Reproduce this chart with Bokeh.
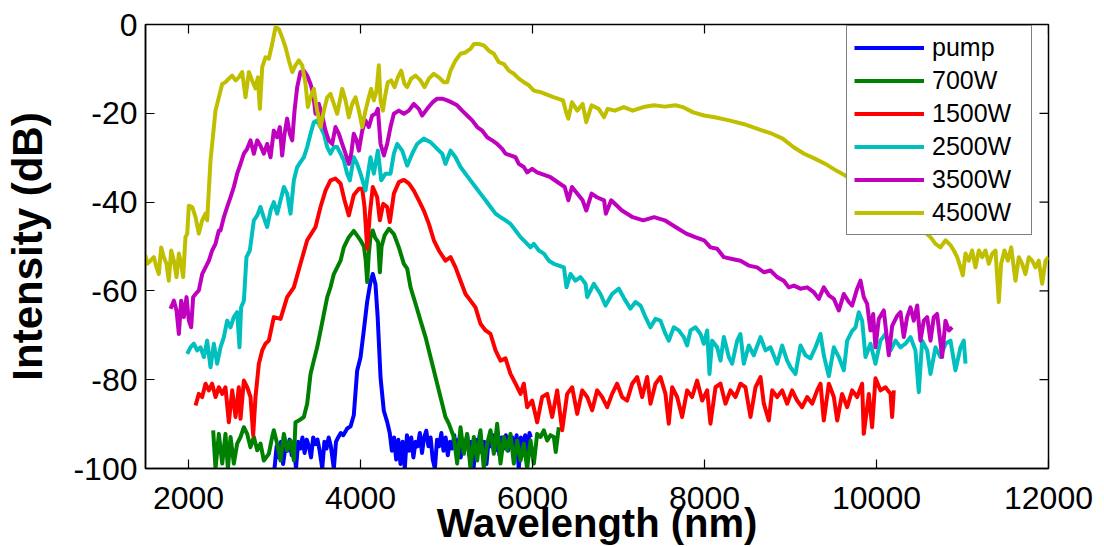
from bokeh.plotting import figure
from bokeh.models import Range1d, Legend, LegendItem, FixedTicker
from bokeh.embed import file_html
from bokeh.resources import INLINE

# ---------------- data ----------------
x_ticks = [2000, 4000, 6000, 8000, 10000, 12000]
y_ticks = [-100, -80, -60, -40, -20, 0]
series_labels = ["pump", "700W", "1500W", "2500W", "3500W", "4500W"]
series_colors = ["#0000FF", "#008000", "#FF0000", "#00BFBF", "#BF00BF", "#BFBF00"]
x_title = "Wavelength (nm)"
y_title = "Intensity (dB)"

pump_wl = [3000, 3025, 3050, 3075, 3100, 3125, 3150, 3175, 3200, 3225, 3250, 3275, 3300, 3325, 3350,
           3375, 3400, 3425, 3450, 3475, 3500, 3525, 3555, 3580, 3605, 3630, 3655, 3690, 3715, 3740,
           3770, 3800, 3845, 3885, 3922, 3961, 4000, 4038, 4077, 4116, 4143, 4174, 4200, 4233, 4271,
           4310, 4340, 4365, 4390, 4415, 4440, 4465, 4490, 4515, 4540, 4565, 4590, 4615, 4640, 4665,
           4690, 4715, 4740, 4765, 4790, 4815, 4840, 4865, 4890, 4915, 4940, 4965, 4990, 5015, 5040,
           5065, 5090, 5115, 5140, 5165, 5190, 5215, 5240, 5265, 5290, 5315, 5340, 5365, 5390, 5415,
           5440, 5465, 5490, 5515, 5540, 5565, 5590, 5615, 5640, 5665, 5690, 5715, 5740, 5765, 5790,
           5815, 5840, 5865, 5890, 5915, 5940, 5965, 5980]
pump_db = [-100, -95, -97.5, -94, -99, -95.5, -96, -93.5, -97, -94.5, -100, -94, -95.5, -93, -96.5,
           -93.5, -95, -97.5, -93, -94.5, -93.5, -96, -100, -94, -95.5, -93, -95, -100, -94, -93,
           -92, -92.5, -91, -90.5, -88, -78, -75, -69, -62.5, -58, -56.2, -58.5, -66, -79.5, -87,
           -89.5, -92, -96, -93, -98, -93.5, -99, -94, -100, -92.5, -96, -93, -97.5, -94, -95,
           -92, -96.5, -93, -91.5, -95, -93, -98, -100, -93.5, -95, -92, -96, -93, -97, -94,
           -95.5, -92.5, -96, -93.5, -97.5, -94, -95, -92.5, -97, -94, -100, -93.5, -95, -92, -96.5,
           -94, -99, -93.5, -95, -92.5, -96, -91.5, -97, -93, -95.5, -92.5, -96, -94, -93, -97.5,
           -92.5, -100, -93, -95, -92.5, -96, -92, -93]

w700_wl = [2287, 2314, 2353, 2392, 2430, 2458, 2489, 2527, 2566, 2605, 2644, 2682, 2721, 2760, 2799,
           2837, 2876, 2934, 2973, 2992, 3031, 3070, 3109, 3147, 3186, 3225, 3244, 3283, 3341, 3380,
           3419, 3457, 3496, 3535, 3574, 3613, 3651, 3690, 3729, 3768, 3806, 3864, 3922, 3960, 4000,
           4040, 4060, 4078, 4095, 4115, 4143, 4170, 4205, 4225, 4245, 4280, 4330, 4388, 4446, 4504,
           4543, 4582, 4640, 4698, 4756, 4814, 4872, 4930, 4988, 5027, 5085, 5124, 5163, 5202, 5240,
           5279, 5318, 5357, 5395, 5434, 5473, 5512, 5551, 5589, 5628, 5667, 5706, 5744, 5783, 5822,
           5861, 5899, 5938, 5977, 6016, 6054, 6093, 6132, 6171, 6209, 6248, 6270, 6306]
w700_db = [-91.4, -100, -92.2, -98.9, -92.2, -100, -92.9, -98.9, -94.4, -92.9, -90.7, -92.2, -95.2, -92.9, -95.9,
           -94.4, -98.2, -96.7, -92.9, -91.4, -94.4, -98.2, -92.2, -95.9, -93.7, -98.2, -89.6, -89.2, -88.4, -85.4,
           -78.7, -75.7, -72.7, -69, -65.2, -61.4, -59.2, -56.2, -54.7, -53.2, -50.2, -47.9, -46.5, -47.5, -48.6,
           -50, -53, -58, -52, -48, -46.4, -48, -49, -55.8, -50, -47.5, -46, -47.2, -50.2, -53.9,
           -55, -59.2, -62.9, -66.7, -70.4, -74.9, -79.4, -83.9, -88.4, -89.9, -92.9, -98.9, -90.7, -96.7, -92.2,
           -100, -92.9, -98.2, -91.4, -100, -94.4, -91.4, -96.7, -89.9, -98.9, -92.9, -95.9, -92.2, -98.9, -93.7,
           -98.2, -94.4, -100, -93.7, -98.9, -92.2, -92.9, -91.4, -93.7, -92.5, -92.9, -96.3, -90.7]

w1500_wl = [2082, 2120, 2159, 2198, 2237, 2275, 2314, 2353, 2392, 2430, 2469, 2508, 2547, 2585, 2605,
            2644, 2682, 2721, 2752, 2779, 2818, 2857, 2895, 2934, 2992, 3070, 3147, 3225, 3302, 3380,
            3477, 3535, 3593, 3651, 3709, 3768, 3814, 3864, 3922, 3981, 4020, 4047, 4078, 4109, 4143,
            4194, 4225, 4264, 4310, 4341, 4388, 4446, 4504, 4562, 4620, 4678, 4736, 4795, 4853, 4911,
            4988, 5047, 5105, 5163, 5221, 5279, 5337, 5395, 5454, 5512, 5570, 5628, 5686, 5744, 5803,
            5861, 5899, 5938, 5996, 6054, 6112, 6171, 6229, 6287, 6345, 6403, 6461, 6520, 6578, 6636,
            6694, 6752, 6810, 6868, 6926, 6984, 7042, 7100, 7159, 7217, 7275, 7333, 7372, 7430, 7488,
            7546, 7585, 7624, 7682, 7740, 7798, 7856, 7914, 7973, 8031, 8069, 8128, 8186, 8244, 8302,
            8360, 8418, 8476, 8535, 8593, 8651, 8690, 8748, 8787, 8845, 8903, 8961, 9019, 9077, 9135,
            9194, 9252, 9310, 9349, 9387, 9446, 9504, 9543, 9600, 9659, 9717, 9775, 9833, 9852, 9911,
            9949, 9988, 10046, 10104, 10163, 10182, 10201]
w1500_db = [-85.8, -83.2, -83.9, -80.9, -82.4, -80.9, -83.9, -81.7, -83.2, -81.7, -89.6, -82.4, -88.4, -81.7, -88.8,
            -80.2, -81.7, -83.9, -92.5, -83.9, -76.4, -73.4, -71.9, -71.2, -65.9, -66.3, -61.4, -59.2, -53.9, -48.6,
            -45.6, -41.1, -37.4, -35.1, -34.7, -35.8, -39.6, -43, -38.4, -37, -37, -41.1, -50.5, -42.6, -36.6,
            -38.9, -44.1, -40.4, -41.1, -44.5, -38.1, -35.5, -35, -35.8, -37.4, -39.6, -41.9, -44.9, -48.6, -50.9,
            -53.2, -52.4, -54.7, -57.7, -60.7, -62.2, -63.7, -67.4, -68.9, -69.7, -73.4, -75.7, -75.2, -78.7, -80.9,
            -83.2, -80.9, -86.2, -84.7, -89.6, -83.9, -83.2, -88.4, -82.4, -91.4, -83.2, -81.7, -87.7, -82.4, -83.9,
            -86.9, -82.4, -83.9, -86.2, -83.2, -80.9, -83.9, -84.7, -80.9, -79.4, -83.9, -79.4, -85.4, -80.9, -79.4,
            -83.2, -89.9, -81.7, -83.9, -88.4, -82.4, -83.9, -80.2, -84.7, -82.4, -89.9, -81.7, -80.9, -85.4, -82.4,
            -83.9, -80.9, -81.7, -88.4, -81.7, -79.4, -85.4, -89.2, -82.4, -83.9, -82.4, -85.4, -82.4, -84.7, -86.2,
            -83.9, -85.4, -82.4, -80.9, -89.2, -80.9, -83.9, -89.2, -83.2, -86.2, -82.4, -83.9, -80.9, -92.2, -83.2,
            -90.7, -79.7, -82.4, -81.7, -83.2, -88.4, -82.4]

w2500_wl = [1985, 2023, 2062, 2101, 2140, 2179, 2217, 2256, 2295, 2333, 2372, 2411, 2450, 2489, 2527,
            2566, 2593, 2612, 2644, 2674, 2713, 2760, 2799, 2837, 2876, 2915, 2954, 2992, 3031, 3070,
            3109, 3147, 3186, 3225, 3264, 3302, 3341, 3380, 3419, 3457, 3496, 3535, 3574, 3613, 3651,
            3690, 3729, 3768, 3806, 3845, 3876, 3922, 3961, 4000, 4058, 4116, 4155, 4202, 4241, 4291,
            4349, 4388, 4427, 4485, 4543, 4601, 4659, 4736, 4814, 4892, 4950, 4988, 5047, 5105, 5163,
            5221, 5279, 5337, 5395, 5454, 5512, 5570, 5628, 5686, 5744, 5803, 5861, 5919, 5977, 6016,
            6074, 6132, 6190, 6248, 6306, 6365, 6395, 6442, 6500, 6558, 6616, 6636, 6713, 6790, 6849,
            6926, 7004, 7081, 7139, 7197, 7256, 7314, 7372, 7430, 7488, 7546, 7585, 7643, 7701, 7759,
            7798, 7837, 7895, 7953, 7992, 8031, 8058, 8089, 8147, 8186, 8225, 8283, 8321, 8380, 8418,
            8457, 8515, 8573, 8651, 8709, 8767, 8845, 8903, 8961, 9000, 9058, 9116, 9174, 9232, 9291,
            9349, 9387, 9446, 9504, 9562, 9620, 9659, 9717, 9756, 9794, 9833, 9872, 9930, 9988, 10046,
            10104, 10163, 10221, 10279, 10337, 10395, 10453, 10492, 10531, 10589, 10628, 10686, 10744, 10802, 10860,
            10918, 10977, 11015, 11035]
w2500_db = [-74.2, -72.7, -71.9, -73.4, -72.7, -74.9, -71.2, -77.2, -71.9, -76.4, -72.7, -70.4, -66.7, -68.2, -65.9,
            -64.8, -72.7, -63.7, -62.2, -52.4, -50.9, -44.1, -43, -41.1, -43.5, -45.6, -41.9, -40, -42.6, -39.6,
            -36.6, -38.1, -42.6, -35.1, -32.1, -31, -29.9, -27.6, -24.6, -22, -21.6, -23.1, -24.6, -27.6, -29.1,
            -27.6, -27.6, -29.1, -30.6, -33.6, -35.1, -29.9, -31.4, -33.6, -37.4, -29.9, -33.6, -28.4, -35.1, -33.6,
            -33.6, -29.1, -26.9, -28.4, -31.8, -29.1, -26.9, -25.7, -26.5, -28, -29.1, -31.4, -28.4, -29.9, -32.1,
            -33.6, -35.1, -36.6, -38.1, -39.6, -41.1, -42.6, -43.4, -44.1, -44.9, -46.4, -47.9, -49, -50.2, -49.4,
            -50.9, -51.6, -53.2, -53.9, -54.3, -54.7, -59.2, -56.2, -57.7, -56.9, -58.4, -61.4, -58.4, -60.7, -63.3,
            -60.7, -59.5, -62.2, -64, -62.5, -63.3, -65.9, -68.2, -66.3, -66.7, -69.7, -71.2, -68.2, -68.9, -70.4,
            -72.3, -68.9, -68.2, -69.7, -71.9, -68.9, -78.7, -71.2, -72.7, -75.7, -70.4, -74.9, -76.4, -71.2, -69.7,
            -76.4, -72.3, -74.5, -70.4, -73.4, -72.7, -76.4, -72.3, -75.7, -77.2, -78.7, -72.3, -74.5, -75.2, -72.7,
            -69.7, -74.5, -79.2, -72.7, -74.9, -77.9, -71.2, -69, -68.2, -64.8, -66.7, -74.9, -71.9, -76.4, -71.2,
            -69.7, -73.4, -71.2, -72.7, -71.9, -70.4, -73.4, -82.8, -71.2, -73.4, -78.7, -72.7, -74.9, -71.9, -71.2,
            -77.9, -72.7, -71.2, -76.4]

w3500_wl = [1791, 1830, 1861, 1888, 1915, 1946, 1977, 2004, 2031, 2054, 2082, 2120, 2159, 2198, 2237,
            2275, 2314, 2353, 2372, 2411, 2450, 2489, 2527, 2566, 2605, 2644, 2682, 2721, 2760, 2799,
            2837, 2876, 2915, 2954, 2992, 3031, 3062, 3089, 3117, 3147, 3178, 3206, 3233, 3264, 3302,
            3341, 3380, 3419, 3450, 3477, 3516, 3554, 3593, 3632, 3671, 3709, 3748, 3787, 3826, 3864,
            3892, 3922, 3954, 3981, 4020, 4058, 4097, 4136, 4175, 4202, 4233, 4272, 4310, 4349, 4388,
            4446, 4504, 4562, 4620, 4678, 4717, 4775, 4834, 4892, 4950, 5008, 5066, 5124, 5182, 5240,
            5299, 5357, 5415, 5473, 5531, 5589, 5648, 5686, 5744, 5803, 5841, 5899, 5938, 5996, 6054,
            6209, 6375, 6417, 6459, 6583, 6625, 6687, 6749, 6832, 6853, 6915, 7040, 7165, 7289, 7414,
            7538, 7663, 7788, 7891, 7995, 8069, 8147, 8225, 8321, 8418, 8515, 8612, 8690, 8767, 8845,
            8922, 8980, 9039, 9116, 9194, 9271, 9329, 9387, 9446, 9504, 9562, 9620, 9678, 9717, 9775,
            9814, 9852, 9891, 9930, 9961, 9988, 10027, 10085, 10143, 10182, 10240, 10279, 10317, 10356, 10395,
            10434, 10473, 10511, 10550, 10589, 10628, 10666, 10705, 10736, 10763, 10802, 10841, 10880]
w3500_db = [-64, -62.2, -64.4, -69.7, -62.2, -65.9, -61.4, -66.7, -68.2, -61.4, -60.7, -59.9, -56.2, -54.7, -53.2,
            -50.9, -49.4, -46.4, -46.4, -43.4, -41.1, -38.9, -36.6, -33.6, -31.4, -29.1, -28, -26.1, -29.1, -26.1,
            -27.3, -29.1, -26.9, -29.9, -23.9, -25.4, -23.1, -29.5, -24.6, -21.2, -24.6, -26.1, -19.4, -14.1, -10.7,
            -10.4, -11.5, -13.4, -15.6, -20.1, -17.9, -20.5, -23.9, -26.1, -26.9, -23.1, -24.6, -26.9, -29.1, -31.4,
            -29.1, -24.6, -26.1, -28.4, -23.9, -21.6, -23.1, -20.5, -20.1, -19, -26.9, -29.5, -26.9, -23.1, -20.1,
            -19.4, -20.1, -19.4, -17.9, -19, -20.5, -19, -17.6, -16.7, -16.7, -17.1, -17.6, -18.2, -19.4, -20.5,
            -21.6, -23.1, -23.9, -25.4, -26.1, -26.9, -28, -29.1, -29.5, -29.9, -31.4, -32.1, -33.3, -32.5, -33.3,
            -34.4, -36.6, -39.6, -36.6, -39.6, -41.9, -38.1, -38.9, -39.6, -42.6, -39.6, -41.9, -43.4, -44.1, -43.4,
            -44.1, -45.6, -47.1, -47.9, -48.6, -50.2, -50.5, -52.4, -52.8, -53.2, -54.3, -54.7, -55.8, -55.4, -56.9,
            -57.7, -59.2, -58.8, -59.5, -59.2, -60.3, -61.8, -59.2, -61, -61.8, -64.4, -60.7, -62.5, -63.3, -59.5,
            -57.7, -61.4, -62.9, -68.9, -65.2, -72.7, -66.3, -64.4, -74.5, -67.9, -65.6, -64.8, -70.4, -65.9, -63.7,
            -66.7, -63.3, -71.2, -66.7, -65.9, -71.2, -65.9, -65.2, -70.4, -74.9, -66.7, -68.9, -68.2]

w4500_wl = [1500, 1520, 1558, 1597, 1628, 1655, 1682, 1713, 1744, 1771, 1799, 1830, 1861, 1888, 1915,
            1938, 1965, 1985, 2004, 2043, 2082, 2120, 2159, 2198, 2217, 2256, 2287, 2314, 2353, 2392,
            2430, 2469, 2508, 2547, 2585, 2624, 2663, 2702, 2740, 2779, 2806, 2830, 2857, 2895, 2934,
            2973, 3012, 3050, 3089, 3128, 3167, 3206, 3244, 3283, 3322, 3361, 3388, 3419, 3457, 3496,
            3535, 3574, 3613, 3651, 3690, 3729, 3760, 3787, 3826, 3864, 3903, 3942, 3981, 4020, 4058,
            4097, 4124, 4155, 4186, 4213, 4233, 4260, 4291, 4318, 4357, 4396, 4434, 4473, 4512, 4543,
            4589, 4640, 4698, 4745, 4795, 4853, 4911, 4969, 5008, 5047, 5105, 5163, 5221, 5279, 5318,
            5376, 5434, 5493, 5551, 5609, 5667, 5725, 5783, 5841, 5899, 5958, 6016, 6085, 6251, 6355,
            6396, 6417, 6459, 6521, 6583, 6625, 6687, 6770, 6832, 6874, 6957, 7061, 7165, 7289, 7414,
            7538, 7663, 7746, 7870, 7995, 8120, 8286, 8452, 8618, 8784, 8909, 9033, 9158, 9283, 9407,
            9532, 9636, 9800, 10000, 10200, 10400, 10550, 10628, 10686, 10744, 10802, 10860, 10899, 10938, 10977,
            11004, 11035, 11074, 11112, 11151, 11190, 11229, 11267, 11306, 11345, 11384, 11422, 11449, 11488, 11527,
            11566, 11616, 11655, 11694, 11732, 11771, 11810, 11849, 11887, 11926, 11965, 12000]
w4500_db = [-52, -53.9, -53.2, -52.4, -54.7, -56.2, -50.2, -52.4, -53.9, -57.7, -50.9, -53.2, -56.9, -51.6, -53.9,
            -56.9, -47.9, -47.1, -40.8, -41.1, -43.4, -47.1, -44.1, -42.6, -44.1, -30.6, -24.6, -19.4, -16.4, -13.4,
            -13, -12.2, -11.5, -12.6, -11.9, -10.7, -16.4, -10.7, -12.6, -14.4, -11.9, -19, -9.6, -7.4, -7.7,
            -4.4, -0.6, -1, -2.9, -5.1, -8.1, -10.7, -9.2, -8.1, -9.2, -13.4, -18.6, -16.4, -14.5, -19.4,
            -23.1, -19.4, -16.4, -15.6, -17.9, -20.1, -17.1, -14.5, -17.1, -20.9, -17.9, -16.4, -19.4, -23.1, -19.4,
            -16.4, -14.5, -17.1, -14.9, -9.2, -17.1, -19.4, -15.6, -13, -12.6, -14.1, -11.9, -10.4, -13.4, -14.1,
            -12.2, -11.5, -12.6, -14.1, -12.2, -11.1, -11.9, -13, -13, -10.4, -8.1, -6.6, -6.3, -5.5, -4.4,
            -4.4, -4.7, -5.9, -6.6, -8.5, -8.9, -10.4, -11.1, -12.2, -13, -13.7, -14.9, -15.2, -16.4, -17.1,
            -20.1, -21.2, -17.5, -19.4, -17.9, -22, -18.2, -19, -20.9, -19, -19.4, -18.6, -19.4, -18.6, -18.2,
            -18.5, -18.2, -18.6, -19.8, -20.5, -20.9, -21.6, -22.4, -23.5, -24.6, -25.7, -27.6, -29.1, -30.2, -31.4,
            -32.9, -34, -36, -38.5, -41, -44, -46.5, -47.9, -49.4, -50.2, -48.6, -49.7, -50.9, -52.4, -54.7,
            -56.5, -51.6, -53.2, -50.9, -54.7, -50.9, -52.4, -50.9, -53.9, -51.6, -50.9, -62.5, -53.9, -50.9, -53.2,
            -50.2, -57.7, -52.4, -53.9, -56.2, -52.4, -53.2, -54.7, -53.2, -58.4, -53.2, -52.4]

series_wl = [pump_wl, w700_wl, w1500_wl, w2500_wl, w3500_wl, w4500_wl]
series_db = [pump_db, w700_db, w1500_db, w2500_db, w3500_db, w4500_db]

# ---------------- figure ----------------
FONT = "Liberation Sans"
X0, X1, Y0, Y1 = 1500, 12000, -100, 0
W, H = 1104, 547
BL, BR, BT, BB = 145, 56, 24, 79
p = figure(width=W, height=H,
           x_range=Range1d(X0, X1), y_range=Range1d(Y0, Y1),
           output_backend="svg", toolbar_location=None,
           min_border_left=BL, min_border_right=BR, min_border_top=BT, min_border_bottom=BB,
           background_fill_color="white", border_fill_color="white")
p.grid.visible = False
p.outline_line_color = "black"
p.outline_line_width = 1.5

renderers = []
for wl, db, col in zip(series_wl, series_db, series_colors):
    r = p.line(wl, db, line_color=col, line_width=4, line_join="round")
    renderers.append(r)

# mirrored inward ticks on the top and right edges (box style)
TICK_PX = 9
frame_w = W - BL - BR
frame_h = H - BT - BB
tx = TICK_PX * (X1 - X0) / frame_w
ty = TICK_PX * (Y1 - Y0) / frame_h
p.segment(x0=x_ticks, y0=[Y1] * len(x_ticks), x1=x_ticks, y1=[Y1 - ty] * len(x_ticks),
          line_color="black", line_width=1.2)
p.segment(x0=[X1] * len(y_ticks), y0=y_ticks, x1=[X1 - tx] * len(y_ticks), y1=y_ticks,
          line_color="black", line_width=1.2)

xa = p.xaxis[0]
ya = p.yaxis[0]
xa.ticker = FixedTicker(ticks=x_ticks)
ya.ticker = FixedTicker(ticks=y_ticks)
ya.major_label_overrides = {t: str(t) for t in y_ticks}
for ax in (xa, ya):
    ax.axis_line_color = "black"
    ax.axis_line_width = 1.5
    ax.major_tick_line_color = "black"
    ax.major_tick_line_width = 1.2
    ax.major_tick_in = TICK_PX
    ax.major_tick_out = 0
    ax.minor_tick_line_color = None
    ax.major_label_text_font = FONT
    ax.major_label_text_font_size = "32px"
    ax.major_label_text_color = "black"
    ax.axis_label_text_font = FONT
    ax.axis_label_text_font_style = "bold"
    ax.axis_label_text_color = "black"
xa.major_label_standoff = 18
ya.major_label_standoff = 8

xa.axis_label = x_title
ya.axis_label = y_title
xa.axis_label_text_font_size = "40px"
ya.axis_label_text_font_size = "42px"
xa.axis_label_standoff = -11
ya.axis_label_standoff = 19

legend = Legend(items=[LegendItem(label=lab, renderers=[r]) for lab, r in zip(series_labels, renderers)],
                location=(701, 233))
legend.label_text_font = FONT
legend.label_text_font_size = "25px"
legend.label_text_color = "black"
legend.glyph_width = 70
legend.glyph_height = 29
legend.label_height = 29
legend.label_width = 92
legend.label_standoff = 8
legend.spacing = 4
legend.padding = 7
legend.margin = 0
legend.border_line_color = "black"
legend.border_line_width = 1.5
legend.background_fill_color = "white"
legend.background_fill_alpha = 1.0
p.add_layout(legend)

open("out.html", "w").write(file_html(p, INLINE))
